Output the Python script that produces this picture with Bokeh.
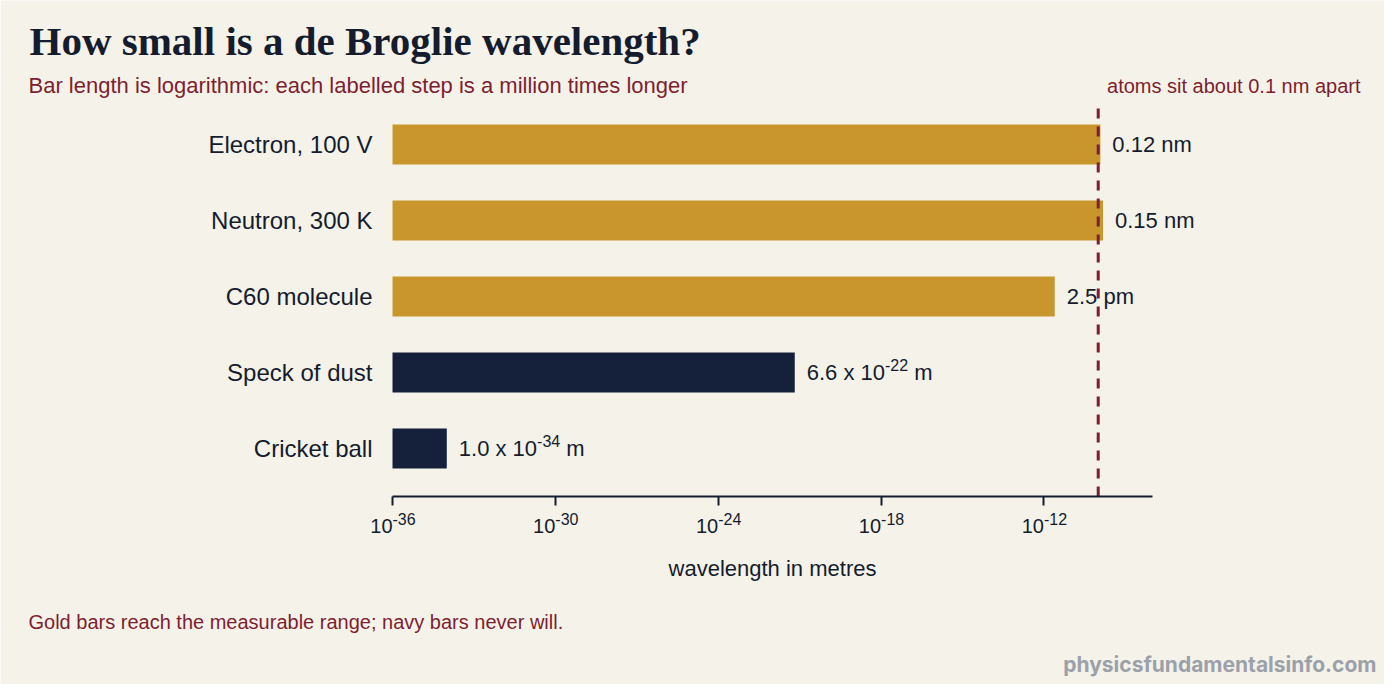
import math
from bokeh.plotting import figure
from bokeh.models import ColumnDataSource, Range1d, FixedTicker, Label
from bokeh.core.properties import value
from bokeh.embed import file_html
from bokeh.resources import INLINE

# data
categories = ["Electron, 100 V", "Neutron, 300 K", "C60 molecule", "Speck of dust", "Cricket ball"]
wavelengths_m = [1.2e-10, 1.5e-10, 2.5e-12, 6.6e-22, 1.0e-34]
measurable = [True, True, True, False, False]
label_main = ["0.12 nm", "0.15 nm", "2.5 pm", "6.6 x 10", "1.0 x 10"]
label_sup = ["", "", "", "-22", "-34"]
label_tail = ["", "", "", "m", "m"]
tick_exponents = [-36, -30, -24, -18, -12]
axis_min_m, axis_max_m = 1e-36, 1e-8
atom_spacing_m = 1e-10

# styling
BG = "#f5f2ea"
GOLD = "#c9952d"
NAVY = "#15213a"
MAROON = "#7d1f2f"
INK = "#141c2e"
GREY = "#9ba1a9"
SANS = "Liberation Sans"

# canvas layout (px, measured from the top-left of the figure)
W, H = 1384, 684
AX_LEFT, AX_RIGHT = 392, 1152      # where the axis starts / ends
ROW = 76                            # px per bar row
FIRST_ROW = 144                     # centre of the top bar
AXIS_Y = 496                        # axis line
LINE_TOP = 104                      # top of the reference line

n = len(categories)
ypos = [n - 1 - i for i in range(n)]

# map the whole canvas to data so text can sit anywhere
lo, hi = math.log10(axis_min_m), math.log10(axis_max_m)
ppd = (AX_RIGHT - AX_LEFT) / (hi - lo)
x_start = 10 ** (lo - AX_LEFT / ppd)
x_end = 10 ** (hi + (W - AX_RIGHT) / ppd)
y_of = lambda py: (n - 1) - (py - FIRST_ROW) / ROW
y_top, y_bottom = y_of(0), y_of(H)

# rough Liberation Sans advance widths (em) for placing superscripts
ADV = {c: 0.556 for c in "0123456789np"}
ADV.update({".": 0.278, " ": 0.278, "x": 0.5, "-": 0.333, "m": 0.833})


def text_w(s, size):
    return sum(ADV.get(c, 0.556) for c in s) * size


main_size, sup_size = 22, 16
gap = 12
sup_off = [gap + text_w(m, main_size) for m in label_main]
tail_off = [o + text_w(s, sup_size) + text_w(" ", main_size) for o, s in zip(sup_off, label_sup)]

src = ColumnDataSource(dict(
    y=ypos, name=categories, value=wavelengths_m, left=[axis_min_m] * n,
    color=[GOLD if m else NAVY for m in measurable],
    main=label_main, sup=label_sup, tail=label_tail,
    main_off=[gap] * n, sup_off=sup_off, tail_off=tail_off,
))

p = figure(width=W, height=H, x_axis_type="log",
           x_range=Range1d(x_start, x_end), y_range=Range1d(y_bottom, y_top),
           output_backend="svg", toolbar_location=None, min_border=0)
p.background_fill_color = BG
p.border_fill_color = BG
p.outline_line_color = None
p.grid.grid_line_color = None
p.yaxis.visible = False

p.hbar(y="y", left="left", right="value", height=40 / ROW, source=src,
       fill_color="color", line_color=None)

# category names
p.text(x="left", y="y", text="name", x_offset=-20, source=src, text_align="right",
       text_baseline="middle", text_font=value(SANS), text_font_size="24px",
       text_color=INK)

# value labels with superscript exponents
common = dict(source=src, text_color=INK, text_baseline="middle", text_font=value(SANS))
p.text(x="value", y="y", text="main", x_offset="main_off",
       text_font_size=f"{main_size}px", **common)
p.text(x="value", y="y", text="sup", x_offset="sup_off", y_offset=-8,
       text_font_size=f"{sup_size}px", **common)
p.text(x="value", y="y", text="tail", x_offset="tail_off",
       text_font_size=f"{main_size}px", **common)

# atomic spacing marker
p.segment(x0=[atom_spacing_m], y0=[y_of(AXIS_Y)], x1=[atom_spacing_m], y1=[y_of(LINE_TOP)],
          line_color=MAROON, line_width=3, line_dash="10 8")

# x axis pinned at its row; power-of-ten labels drawn below as text
ticks = [10.0 ** e for e in tick_exponents]
xa = p.xaxis[0]
xa.fixed_location = y_of(AXIS_Y)
xa.bounds = (axis_min_m, axis_max_m)
xa.ticker = FixedTicker(ticks=ticks, minor_ticks=[])
xa.major_label_overrides = {t: "" for t in ticks}
xa.axis_line_color = INK
xa.axis_line_width = 2
xa.major_tick_line_color = INK
xa.major_tick_line_width = 2
xa.major_tick_out = 9
xa.major_tick_in = 0
xa.minor_tick_line_color = None

for t, e in zip(ticks, tick_exponents):
    p.add_layout(Label(x=t, y=H - 525, y_units="screen", text="10", text_align="right",
                       text_baseline="middle", text_font=SANS, text_font_size="20px",
                       text_color=INK))
    p.add_layout(Label(x=t, y=H - 518, y_units="screen", text=str(e), text_align="left",
                       text_baseline="middle", text_font=SANS, text_font_size="16px",
                       text_color=INK))


def note(x, y, text, size, color, align="left", font=SANS, style="normal"):
    p.add_layout(Label(x=x, y=H - y, x_units="screen", y_units="screen", text=text,
                       text_align=align, text_baseline="middle", text_font=font,
                       text_font_style=style, text_font_size=f"{size}px",
                       text_color=color))


note((AX_LEFT + AX_RIGHT) / 2, 568, "wavelength in metres", 22, INK, align="center")
note(29, 40, "How small is a de Broglie wavelength?", 41, INK,
     font="Liberation Serif", style="bold")
note(28, 85, "Bar length is logarithmic: each labelled step is a million times longer", 22, MAROON)
note(1360, 85, "atoms sit about 0.1 nm apart", 20, MAROON, align="right")
note(28, 621, "Gold bars reach the measurable range; navy bars never will.", 20, MAROON)
note(1376, 664, "physicsfundamentalsinfo.com", 21, GREY, align="right",
     font="Inter", style="bold")

html = file_html(p, INLINE)
html = html.replace("<body>", f'<body style="background:{BG};">', 1)
open("out.html", "w").write(html)
